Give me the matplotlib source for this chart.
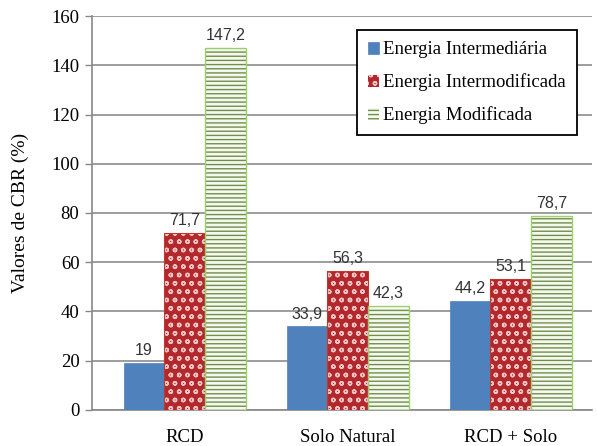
import numpy as np
import matplotlib.pyplot as plt

categorias = ["RCD", "Solo Natural", "RCD + Solo"]
series = ["Energia Intermediária", "Energia Intermodificada", "Energia Modificada"]
intermediaria = [19, 33.9, 44.2]
intermodificada = [71.7, 56.3, 53.1]
modificada = [147.2, 42.3, 78.7]

plt.rcParams['hatch.linewidth'] = 1.0

fig = plt.figure(figsize=(5.97, 4.46), dpi=100)
ax = fig.add_axes([0.154, 0.081, 0.838, 0.883])

x = np.arange(len(categorias))
w = 0.25

# blue bars
b1 = ax.bar(x - w, intermediaria, w, color='#4f81bd', edgecolor='#4f81bd', linewidth=0.5, zorder=3,
            label=series[0])
# red bars with dotted pattern
b2 = ax.bar(x, intermodificada, w, color='#b3282d', edgecolor='#f2c4c4', linewidth=0, hatch='oo', zorder=3,
            label=series[1])
ax.bar(x, intermodificada, w, fill=False, edgecolor='#c0392b', linewidth=0.8, zorder=4)
# green bars with horizontal stripes
b3 = ax.bar(x + w, modificada, w, color='#f5f8ef', edgecolor='#6f8f4a', linewidth=0, hatch='----', zorder=3,
            label=series[2])
ax.bar(x + w, modificada, w, fill=False, edgecolor='#9bd06a', linewidth=1.0, zorder=4)

def fmt(v):
    s = ('%.1f' % v).replace('.', ',')
    return s[:-2] if s.endswith(',0') else s

for bars, vals in [(b1, intermediaria), (b2, intermodificada), (b3, modificada)]:
    for rect, v in zip(bars, vals):
        ax.text(rect.get_x() + rect.get_width() / 2, v + 2, fmt(v), ha='center', va='bottom',
                fontsize=11.5, color='#333333', family='Liberation Sans')

ax.set_ylim(0, 160)
ax.set_xlim(-0.57, 2.5)
ax.set_yticks(range(0, 161, 20))
ax.set_xticks(x)
ax.set_xticklabels(categorias, family='Liberation Serif', fontsize=13.5)
for lab in ax.get_yticklabels():
    lab.set_family('Liberation Serif')
    lab.set_fontsize(13.5)
ax.tick_params(axis='x', length=0, pad=14)
ax.tick_params(axis='y', length=5, color='#888888', width=1, direction='out', pad=4)
ax.set_ylabel('Valores de CBR (%)', family='Liberation Serif', fontsize=14, labelpad=16)

ax.grid(axis='y', color='#8c8c8c', linewidth=1.2, zorder=0)
ax.set_axisbelow(True)
for s in ['top', 'right']:
    ax.spines[s].set_visible(False)
ax.spines['left'].set_color('#888888')
ax.spines['left'].set_linewidth(1.2)
ax.spines['bottom'].set_color('#888888')
ax.spines['bottom'].set_linewidth(1.2)

leg = ax.legend(handles=[b1, b2, b3], loc='upper right', bbox_to_anchor=(0.97, 0.964),
                prop={'family': 'Liberation Serif', 'size': 13.5}, fancybox=False, framealpha=1,
                edgecolor='black', handlelength=0.6, handleheight=0.6, handletextpad=0.2,
                labelspacing=0.8, borderpad=0.6, borderaxespad=0)
leg.get_frame().set_linewidth(1.3)

plt.savefig('out.png', dpi=100)
